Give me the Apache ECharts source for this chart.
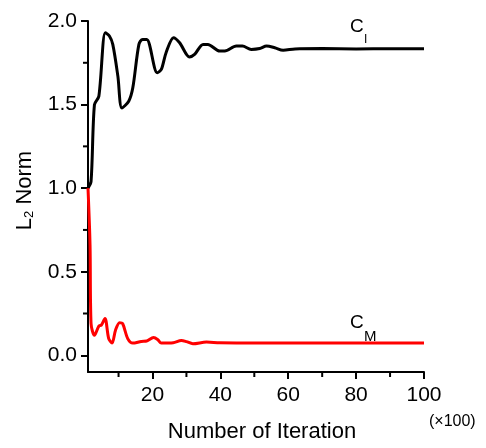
<!DOCTYPE html>
<html>
<head>
<meta charset="utf-8">
<script src="https://cdn.jsdelivr.net/npm/echarts@6/dist/echarts.min.js"></script>
<style>
  html, body { margin: 0; padding: 0; background: #fff; }
  #main { width: 486px; height: 448px; }
</style>
</head>
<body>
<div id="main"></div>
<script>
// iteration (x100) and L2 norm values
var ciX = [1, 1.9, 2.9, 4.2, 6.1, 7.3, 8.3, 9.8, 11.0, 13.0, 14.2, 16.0, 17.1, 18.3, 21.4, 22.6, 24.0, 26.2, 28.0, 30.9, 32.4, 34.9, 36.3, 39.8, 41.3, 44.7, 46.5, 49.1, 51.6, 53.6, 56, 58.5, 62, 70, 80, 90, 100];
var ciY = [1.0, 1.04, 1.50, 1.55, 1.93, 1.91, 1.86, 1.67, 1.48, 1.52, 1.60, 1.86, 1.89, 1.89, 1.69, 1.71, 1.81, 1.90, 1.87, 1.785, 1.80, 1.86, 1.86, 1.82, 1.82, 1.85, 1.85, 1.83, 1.835, 1.85, 1.84, 1.825, 1.833, 1.835, 1.833, 1.834, 1.834];
var cmX = [1, 1.6, 1.9, 2.9, 4.2, 4.9, 6.0, 7.1, 8.1, 9.1, 10.3, 11.2, 12.7, 14.2, 16.7, 18.3, 20.3, 21.6, 22.6, 26.1, 28.5, 30, 31.9, 35.9, 39.8, 50, 60, 80, 100];
var cmY = [1.0, 0.66, 0.19, 0.12, 0.175, 0.18, 0.22, 0.10, 0.073, 0.15, 0.195, 0.19, 0.10, 0.073, 0.083, 0.085, 0.106, 0.093, 0.073, 0.075, 0.089, 0.082, 0.069, 0.079, 0.075, 0.073, 0.073, 0.073, 0.073];

var xMajor = [20, 40, 60, 80, 100];
var xMinor = [10, 30, 50, 70, 90];
var yMajor = [0, 0.5, 1.0, 1.5, 2.0];
var yMinor = [0.25, 0.75, 1.25, 1.75];
var xMin = 1, xMax = 100, yMin = -0.1, yMax = 2.0;

function pairs(xs, ys) {
  var out = [];
  for (var i = 0; i < xs.length; i++) out.push([xs[i], ys[i]]);
  return out;
}

// short outward tick marks placed through the axis scales
function minorTicks(isX) {
  return function (params, api) {
    var v = api.value(0);
    var p = isX ? api.coord([v, yMin]) : api.coord([xMin, v]);
    var q = isX ? [p[0], p[1] + 5] : [p[0] - 5, p[1]];
    return {
      type: 'line',
      shape: { x1: p[0], y1: p[1], x2: q[0], y2: q[1] },
      style: { stroke: '#000', lineWidth: 2 }
    };
  };
}

var FONT = 'Liberation Sans, Arial, sans-serif';
var chart = echarts.init(document.getElementById('main'));

var option = {
  animation: false,
  textStyle: { fontFamily: FONT, color: '#000' },
  grid: { left: 88, right: 62, top: 21, bottom: 73 },
  xAxis: {
    type: 'value', min: xMin, max: xMax,
    name: 'Number of Iteration',
    nameLocation: 'middle', nameGap: 49,
    nameTextStyle: { fontSize: 22, color: '#000', fontFamily: FONT, padding: [0, 0, 0, 12] },
    axisLine: { show: true, onZero: false, lineStyle: { color: '#000', width: 2 } },
    axisTick: { show: true, inside: false, length: 7, lineStyle: { color: '#000', width: 2 }, customValues: xMajor },
    axisLabel: { fontSize: 21, color: '#000', margin: 13, fontFamily: FONT, customValues: xMajor },
    splitLine: { show: false }
  },
  yAxis: {
    type: 'value', min: yMin, max: yMax,
    name: '{n|L}{s|2}{n| Norm}',
    nameLocation: 'middle', nameGap: 52, nameRotate: 90,
    nameTextStyle: {
      padding: [0, 0, 0, 12],
      rich: {
        n: { fontSize: 22, color: '#000', fontFamily: FONT, verticalAlign: 'bottom', lineHeight: 24 },
        s: { fontSize: 13, color: '#000', fontFamily: FONT, verticalAlign: 'bottom', lineHeight: 2 }
      }
    },
    axisLine: { show: true, onZero: false, lineStyle: { color: '#000', width: 2 } },
    axisTick: { show: true, length: 7, lineStyle: { color: '#000', width: 2 }, customValues: yMajor },
    axisLabel: {
      fontSize: 21, color: '#000', margin: 11, fontFamily: FONT, customValues: yMajor,
      formatter: function (v) { return v.toFixed(1); }
    },
    splitLine: { show: false }
  },
  graphic: [
    { type: 'text', left: 429, top: 414, style: { text: '(\u00d7100)', fontSize: 16, fill: '#000', fontFamily: FONT } },
    { type: 'text', left: 350, top: 17, style: { text: 'C', fontSize: 19, fill: '#000', fontFamily: FONT } },
    { type: 'text', left: 364, top: 34, style: { text: 'I', fontSize: 12, fill: '#000', fontFamily: FONT } },
    { type: 'text', left: 350, top: 313, style: { text: 'C', fontSize: 19, fill: '#000', fontFamily: FONT } },
    { type: 'text', left: 364, top: 329, style: { text: 'M', fontSize: 15, fill: '#000', fontFamily: FONT } }
  ],
  series: [
    {
      name: 'CI', type: 'line',
      data: pairs(ciX, ciY), smooth: 0.3, showSymbol: false,
      lineStyle: { color: '#000', width: 3 }
    },
    {
      name: 'CM', type: 'line',
      data: pairs(cmX, cmY), smooth: 0.3, showSymbol: false,
      lineStyle: { color: '#ff0000', width: 3 }
    },
    {
      type: 'custom', silent: true, clip: false,
      encode: { x: 0 },
      data: xMinor.map(function (v) { return [v]; }),
      renderItem: minorTicks(true)
    },
    {
      type: 'custom', silent: true, clip: false,
      encode: { y: 0 },
      data: yMinor.map(function (v) { return [v]; }),
      renderItem: minorTicks(false)
    }
  ]
};

chart.setOption(option);
</script>
</body>
</html>
